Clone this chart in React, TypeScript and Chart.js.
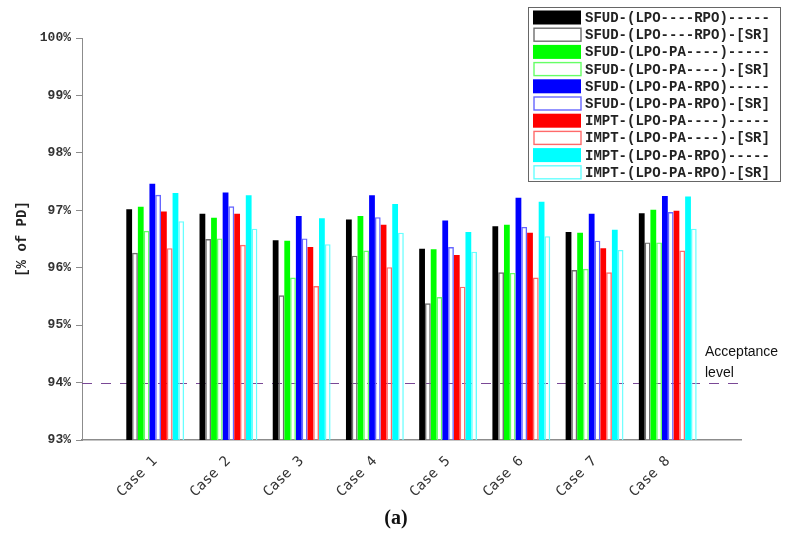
import React, { useEffect, useRef } from "react";
import { Chart, registerables } from "chart.js";

Chart.register(...registerables);

const categories = ["", "Case 1", "Case 2", "Case 3", "Case 4", "Case 5", "Case 6", "Case 7", "Case 8", ""];

const seriesNames = [
  "SFUD-(LPO----RPO)-----",
  "SFUD-(LPO----RPO)-[SR]",
  "SFUD-(LPO-PA----)-----",
  "SFUD-(LPO-PA----)-[SR]",
  "SFUD-(LPO-PA-RPO)-----",
  "SFUD-(LPO-PA-RPO)-[SR]",
  "IMPT-(LPO-PA----)-----",
  "IMPT-(LPO-PA----)-[SR]",
  "IMPT-(LPO-PA-RPO)-----",
  "IMPT-(LPO-PA-RPO)-[SR]",
];

const sfudLpoRpo = [97.02, 96.94, 96.48, 96.84, 96.33, 96.72, 96.62, 96.95];
const sfudLpoRpoSR = [96.26, 96.5, 95.52, 96.21, 95.38, 95.92, 95.96, 96.44];
const sfudLpoPa = [97.06, 96.87, 96.47, 96.9, 96.32, 96.75, 96.61, 97.01];
const sfudLpoPaSR = [96.64, 96.51, 95.83, 96.3, 95.49, 95.91, 95.98, 96.44];
const sfudLpoPaRpo = [97.46, 97.31, 96.9, 97.26, 96.82, 97.22, 96.94, 97.25];
const sfudLpoPaRpoSR = [97.27, 97.07, 96.51, 96.88, 96.36, 96.71, 96.47, 96.97];
const imptLpoPa = [96.98, 96.94, 96.36, 96.75, 96.22, 96.61, 96.34, 96.99];
const imptLpoPaSR = [96.34, 96.4, 95.68, 96.01, 95.67, 95.83, 95.92, 96.3];
const imptLpoPaRpo = [97.3, 97.26, 96.86, 97.11, 96.62, 97.15, 96.66, 97.24];
const imptLpoPaRpoSR = [96.81, 96.68, 96.41, 96.61, 96.28, 96.55, 96.31, 96.68];

const seriesValues = [
  sfudLpoRpo, sfudLpoRpoSR, sfudLpoPa, sfudLpoPaSR, sfudLpoPaRpo,
  sfudLpoPaRpoSR, imptLpoPa, imptLpoPaSR, imptLpoPaRpo, imptLpoPaRpoSR,
];

const yTicks = [93, 94, 95, 96, 97, 98, 99, 100];
const acceptanceLevel = 94;
const acceptanceText = ["Acceptance", "level"];
const yTitle = "[% of PD]";
const caption = "(a)";

const solidColors = ["#000000", "#00ff00", "#0000ff", "#ff0000", "#00ffff"];
const srColors = ["#6e6e6e", "#66ff66", "#6666ff", "#ff6a6a", "#66ffff"];

export default function App() {
  const ref = useRef<HTMLCanvasElement | null>(null);

  useEffect(() => {
    document.body.style.margin = "0";
    const canvas = ref.current;
    if (!canvas) return;

    const datasets = seriesValues.map((vals, i) => {
      const sr = i % 2 === 1;
      const c = sr ? srColors[(i - 1) / 2] : solidColors[i / 2];
      return {
        label: seriesNames[i],
        data: [null, ...vals, null],
        backgroundColor: sr ? "rgba(255,255,255,0)" : c,
        borderColor: c,
        borderWidth: sr ? 1.4 : 0,
        barPercentage: 1,
        categoryPercentage: 0.79,
      };
    });

    const overlay = {
      id: "overlay",
      beforeDatasetsDraw(chart: any) {
        const ctx = chart.ctx;
        const { left, right } = chart.chartArea;
        const y = chart.scales.y.getPixelForValue(acceptanceLevel);
        ctx.save();
        ctx.strokeStyle = "#7a4896";
        ctx.lineWidth = 1;
        ctx.setLineDash([10, 9]);
        ctx.beginPath();
        ctx.moveTo(left, Math.round(y) + 0.5);
        ctx.lineTo(right, Math.round(y) + 0.5);
        ctx.stroke();
        ctx.restore();
      },
      afterDraw(chart: any) {
        const ctx = chart.ctx;
        const { top, bottom } = chart.chartArea;
        const yAcc = chart.scales.y.getPixelForValue(acceptanceLevel);
        ctx.save();
        // acceptance text
        ctx.fillStyle = "#111";
        ctx.font = "14px 'Liberation Sans', Arial, sans-serif";
        ctx.textAlign = "left";
        ctx.textBaseline = "middle";
        ctx.fillText(acceptanceText[0], 705, yAcc - 30);
        ctx.fillText(acceptanceText[1], 705, yAcc - 9);

        // y title
        ctx.save();
        ctx.translate(22, (top + bottom) / 2);
        ctx.rotate(-Math.PI / 2);
        ctx.font = "bold 14px 'Liberation Mono', monospace";
        ctx.textAlign = "center";
        ctx.textBaseline = "middle";
        ctx.fillStyle = "#222";
        ctx.fillText(yTitle, 0, 0);
        ctx.restore();

        // caption
        ctx.font = "bold 20px 'Liberation Serif', serif";
        ctx.textAlign = "center";
        ctx.textBaseline = "middle";
        ctx.fillStyle = "#111";
        ctx.fillText(caption, 396, 519);

        // legend
        const bx = 528, by = 7, bw = 252, bh = 174;
        ctx.fillStyle = "#ffffff";
        ctx.fillRect(bx, by, bw, bh);
        ctx.strokeStyle = "#666";
        ctx.lineWidth = 1;
        ctx.strokeRect(bx + 0.5, by + 0.5, bw, bh);
        ctx.font = "bold 14px 'Liberation Mono', monospace";
        ctx.textAlign = "left";
        ctx.textBaseline = "middle";
        chart.data.datasets.forEach((ds: any, i: number) => {
          const cy = 17.5 + i * 17.2;
          const sr = i % 2 === 1;
          if (sr) {
            ctx.fillStyle = "#fff";
            ctx.fillRect(534, cy - 6.5, 47, 13);
            ctx.strokeStyle = ds.borderColor;
            ctx.lineWidth = 1.4;
            ctx.strokeRect(534, cy - 6.5, 47, 13);
          } else {
            ctx.fillStyle = ds.backgroundColor;
            ctx.fillRect(533, cy - 7, 48, 14);
          }
          ctx.fillStyle = "#222";
          ctx.fillText(ds.label, 585, cy + 1);
        });
        ctx.restore();
      },
    };

    const chart = new Chart(canvas, {
      type: "bar",
      data: { labels: categories, datasets: datasets as any },
      plugins: [overlay],
      options: {
        responsive: false,
        animation: false,
        devicePixelRatio: 1,
        layout: { padding: { top: 38, right: 48, left: 0, bottom: 0 } },
        plugins: { legend: { display: false }, tooltip: { enabled: false } },
        scales: {
          x: {
            offset: false,
            grid: { display: false },
            border: { display: true, color: "#8c8c8c", width: 1.5 },
            ticks: {
              autoSkip: false,
              minRotation: 45,
              maxRotation: 45,
              padding: 5,
              color: "#333",
              font: { family: "'DejaVu Sans Mono', monospace", size: 14 },
            },
            afterFit(scale: any) {
              scale.height = 96;
            },
          },
          y: {
            min: 93,
            max: 100,
            afterBuildTicks(scale: any) {
              scale.ticks = yTicks.map((v) => ({ value: v }));
            },
            grid: { drawOnChartArea: false, drawTicks: true, tickLength: 6, color: "#8c8c8c" },
            border: { display: true, color: "#8c8c8c", width: 1 },
            ticks: {
              padding: 5,
              color: "#333",
              font: { family: "'Liberation Mono', monospace", size: 13, weight: "bold" },
              callback: (v: any) => `${v}%`,
            },
            afterFit(scale: any) {
              scale.width = 82;
            },
          },
        },
      },
    });
    return () => chart.destroy();
  }, []);

  return (
    <div style={{ width: 789, height: 536 }}>
      <canvas ref={ref} width={789} height={536} style={{ width: 789, height: 536 }} />
    </div>
  );
}
